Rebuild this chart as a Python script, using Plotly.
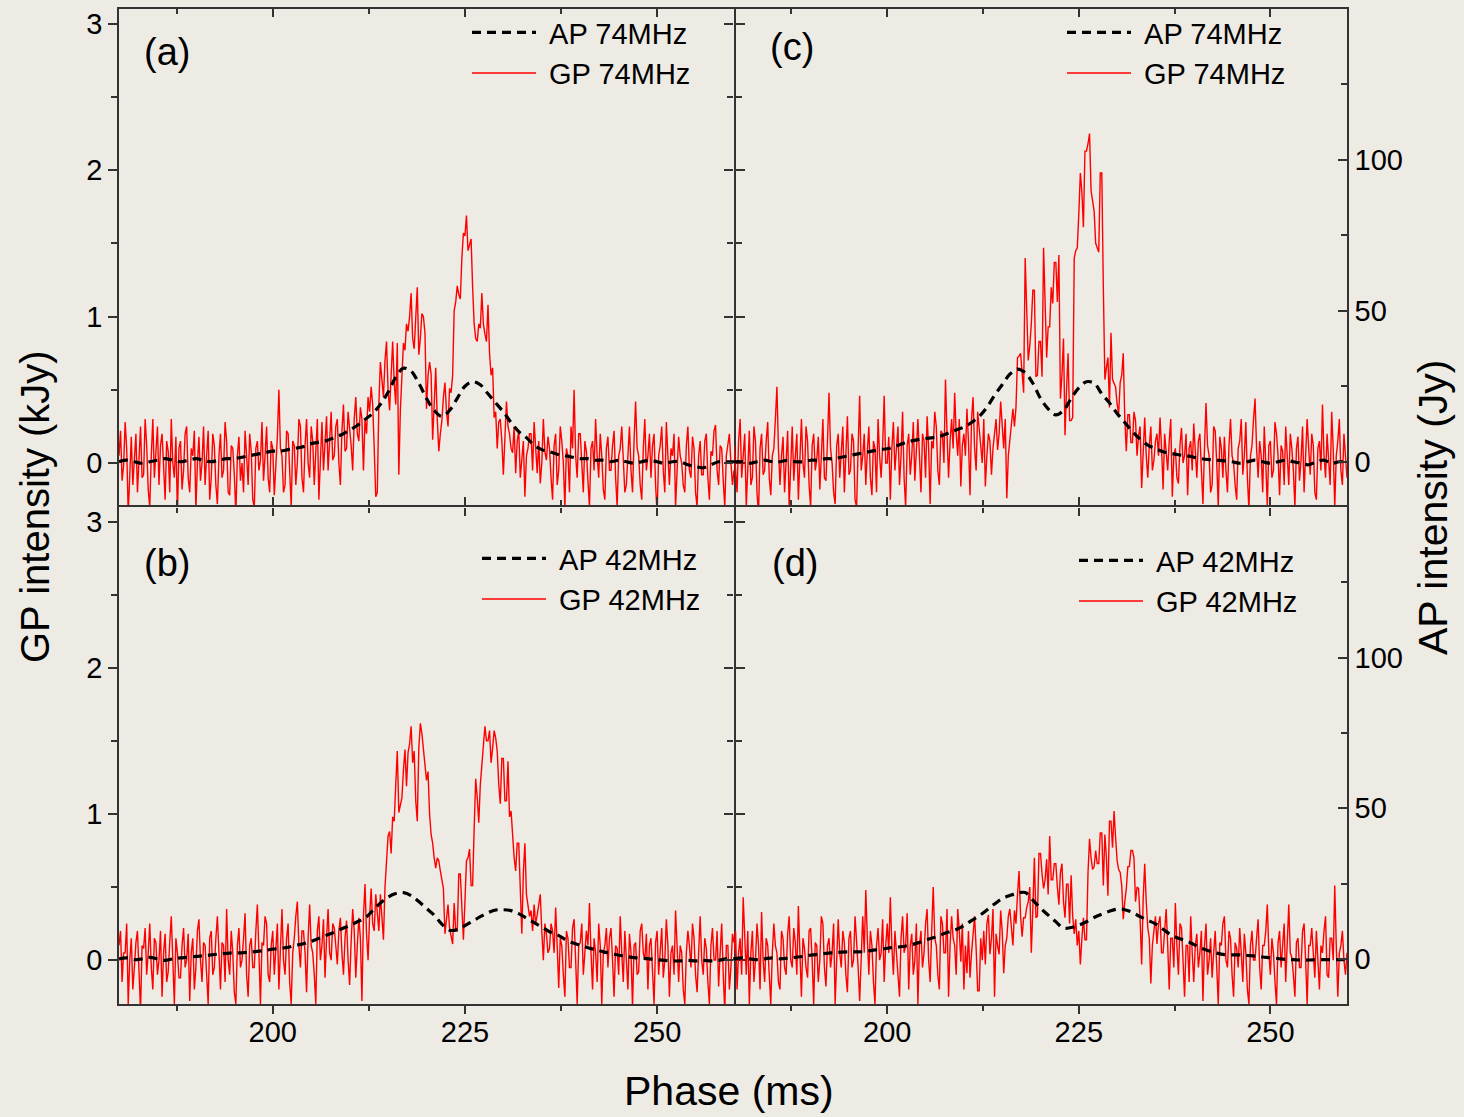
import plotly.graph_objects as go

# ---------------- data ----------------
# GP intensity (kJy), sampled every 0.2 ms from 180 ms to 260 ms
GP_A = [0.05, 0.22, -0.12, -0.02, 0.28, 0.1, -0.35, -0.05, 0.18, -0.15, 0.02, 0.2, -0.2, 0.08, 0.25, -0.1, -0.08, 0.3, 0.12, -0.18,
        -0.3, 0.05, 0.3, -0.1, 0.1, 0.25, -0.15, 0.12, 0.2, -0.05, -0.25, 0.15, 0.08, -0.2, 0.3, 0.0, -0.1, 0.18, -0.35, 0.1,
        0.15, -0.18, -0.05, 0.2, 0.25, -0.1, -0.2, 0.1, 0.05, 0.22, -0.32, 0.0, 0.18, -0.12, 0.0, 0.25, -0.15, 0.05, 0.22, -0.25,
        -0.1, 0.2, 0.12, -0.15, -0.28, 0.05, 0.2, -0.1, -0.05, 0.28, 0.15, -0.2, -0.22, 0.12, 0.1, -0.08, -0.35, 0.05, 0.18, -0.12,
        0.0, -0.2, 0.22, 0.05, -0.15, 0.2, 0.08, -0.25, -0.3, 0.1, 0.15, -0.05, 0.02, 0.28, -0.12, 0.05, 0.25, -0.1, -0.2, 0.15,
        0.1, -0.22, -0.05, 0.18, 0.5, 0.1, 0.05, -0.2, -0.15, 0.22, 0.2, -0.08, -0.3, 0.15, 0.12, -0.15, 0.0, 0.3, 0.25, -0.1,
        -0.2, 0.12, 0.3, 0.0, -0.1, 0.25, 0.15, -0.15, 0.05, 0.3, -0.25, 0.1, 0.28, -0.05, 0.1, 0.32, -0.05, 0.18, 0.35, 0.02,
        0.05, 0.25, 0.3, 0.0, -0.15, 0.22, 0.4, 0.08, 0.1, 0.35, 0.25, 0.12, -0.05, 0.3, 0.45, 0.2, 0.15, 0.38, 0.3, -0.05,
        0.3, 0.2, 0.45, 0.35, 0.52, 0.4, 0.1, -0.23, -0.2, 0.4, 0.69, 0.55, 0.45, 0.7, 0.83, 0.5, 0.36, 0.6, 0.83, 0.55,
        0.4, 0.82, -0.08, 0.36, 0.6, 0.82, 0.77, 0.95, 0.9, 1.0, 1.16, 0.85, 0.78, 0.95, 1.2, 0.74, 0.85, 1.02, 1.0, 0.89,
        0.37, 0.6, 0.69, 0.61, 0.16, 0.4, 0.65, 0.3, 0.08, 0.2, 0.29, 0.45, 0.55, 0.35, 0.25, 0.51, 0.48, 0.6, 1.04, 1.1,
        1.21, 1.15, 1.12, 1.4, 1.57, 1.55, 1.69, 1.45, 1.5, 1.53, 1.2, 0.95, 0.85, 0.83, 0.95, 0.92, 1.16, 0.95, 0.88, 0.83,
        1.08, 0.75, 0.6, 0.65, 0.31, 0.35, 0.1, 0.28, 0.3, 0.15, -0.08, 0.2, 0.42, 0.25, 0.2, 0.1, 0.07, 0.25, -0.07, 0.15,
        0.22, -0.1, 0.05, 0.15, -0.23, 0.05, 0.1, 0.2, 0.2, -0.05, 0.28, 0.1, -0.07, 0.15, -0.14, 0.0, 0.3, 0.08, 0.02, 0.18,
        0.1, -0.1, -0.25, 0.12, 0.2, -0.15, -0.05, 0.25, 0.15, 0.0, -0.3, 0.1, 0.05, -0.2, 0.25, 0.1, 0.5, 0.05, -0.1, 0.2,
        0.2, 0.0, -0.2, 0.15, 0.08, -0.12, -0.3, 0.1, 0.15, -0.05, 0.3, 0.05, -0.1, 0.2, 0.05, -0.18, -0.25, 0.1, 0.18, -0.05,
        -0.05, 0.12, 0.22, -0.1, -0.3, 0.05, 0.1, 0.25, 0.0, -0.2, -0.15, 0.1, 0.25, -0.05, -0.2, 0.15, 0.42, 0.1, 0.05, -0.15,
        -0.25, 0.1, 0.3, -0.05, 0.05, 0.2, -0.1, 0.12, 0.2, -0.15, -0.35, 0.05, 0.12, 0.25, -0.05, -0.2, 0.28, 0.05, -0.15, 0.1,
        0.05, 0.2, -0.3, -0.05, 0.18, 0.05, 0.0, -0.15, -0.2, 0.12, 0.25, -0.05, -0.1, 0.18, 0.1, -0.2, -0.3, 0.05, 0.15, -0.08,
        -0.08, 0.15, 0.2, -0.1, -0.25, 0.08, 0.05, 0.22, 0.26, -0.05, -0.15, 0.12, 0.1, -0.12, -0.3, 0.05, 0.12, 0.2, 0.0, -0.15,
        -0.05]

GP_C = [0.12, -0.05, -0.2, 0.15, 0.3, -0.1, 0.05, 0.2, -0.3, 0.0, 0.22, -0.15, -0.1, 0.25, 0.15, -0.2, -0.35, 0.1, 0.2, -0.08,
        -0.05, 0.15, 0.28, -0.1, -0.22, 0.05, 0.1, 0.3, 0.52, 0.1, -0.15, 0.05, 0.18, -0.2, 0.0, 0.22, -0.3, 0.05, 0.25, -0.12,
        0.05, 0.2, -0.25, 0.1, 0.3, 0.0, -0.1, 0.25, 0.15, -0.15, -0.3, 0.12, 0.2, -0.05, 0.02, 0.18, -0.18, 0.05, 0.3, -0.1,
        -0.12, 0.15, 0.48, 0.1, 0.0, -0.2, -0.28, 0.12, 0.2, -0.1, 0.08, 0.25, -0.2, 0.05, 0.32, -0.08, -0.05, 0.2, 0.15, -0.25,
        -0.3, 0.1, 0.46, -0.05, 0.05, 0.2, -0.15, 0.08, 0.25, -0.1, -0.22, 0.15, 0.1, -0.2, 0.3, 0.05, -0.1, 0.12, 0.46, 0.0,
        0.0, 0.18, -0.25, 0.1, 0.28, -0.05, 0.1, 0.25, -0.15, 0.05, 0.35, -0.1, -0.3, 0.12, 0.2, -0.08, 0.05, 0.28, -0.12, 0.15,
        0.3, 0.05, -0.2, 0.2, 0.15, -0.1, 0.32, 0.1, -0.28, 0.15, 0.1, 0.35, 0.25, -0.05, -0.15, 0.22, 0.2, 0.0, 0.57, 0.2,
        -0.1, 0.15, 0.3, 0.1, 0.48, 0.2, 0.05, 0.3, -0.16, 0.12, 0.2, 0.05, 0.37, 0.15, -0.22, 0.3, 0.45, 0.1, -0.05, 0.35,
        0.24, 0.1, 0.0, 0.3, -0.16, 0.05, 0.2, 0.15, -0.08, 0.1, 0.21, 0.3, 0.09, 0.2, 0.42, 0.25, 0.1, 0.3, -0.24, 0.05,
        0.16, 0.3, 0.37, 0.25, 0.38, 0.72, 0.73, 0.75, 0.6, 0.48, 1.4, 1.0, 0.7, 0.8, 0.95, 1.18, 1.18, 0.59, 0.6, 0.83,
        0.83, 0.59, 1.47, 1.1, 0.72, 0.93, 0.93, 1.2, 1.09, 1.37, 1.37, 1.1, 1.42, 0.44, 0.6, 0.85, 0.19, 0.5, 0.75, 0.29,
        0.29, 0.31, 1.4, 1.45, 1.47, 1.7, 1.98, 1.85, 1.61, 2.13, 2.13, 2.18, 2.25, 1.86, 1.8, 1.72, 1.5, 1.47, 1.44, 1.98,
        1.98, 1.2, 0.57, 0.65, 0.72, 0.38, 0.89, 0.57, 0.55, 0.52, 0.4, 0.34, 0.55, 0.6, 0.75, 0.3, 0.08, 0.33, 0.33, 0.14,
        0.14, 0.35, 0.29, 0.05, 0.19, 0.25, -0.17, 0.1, 0.31, 0.05, -0.1, 0.12, 0.25, -0.05, 0.02, 0.15, 0.2, 0.05, 0.31, 0.1,
        -0.18, 0.2, 0.07, -0.05, 0.15, 0.3, -0.23, 0.05, 0.1, -0.1, -0.14, 0.12, 0.24, 0.0, 0.05, 0.2, -0.22, 0.1, 0.15, -0.05,
        0.27, 0.05, -0.1, 0.15, 0.2, -0.05, -0.28, 0.1, 0.41, 0.12, 0.05, -0.2, -0.15, 0.25, 0.22, 0.0, -0.3, 0.18, 0.1, -0.1,
        0.18, -0.05, -0.2, 0.12, 0.3, 0.05, 0.0, -0.15, -0.25, 0.1, 0.15, 0.3, -0.08, 0.05, 0.28, -0.1, -0.32, 0.05, 0.12, 0.3,
        0.44, 0.1, -0.1, 0.15, 0.05, -0.2, 0.25, 0.0, -0.3, 0.12, 0.15, -0.1, -0.05, 0.28, 0.2, 0.05, -0.22, 0.12, 0.08, -0.15,
        0.25, 0.05, -0.15, 0.2, 0.1, -0.05, -0.3, 0.1, 0.18, -0.12, 0.02, 0.25, -0.2, 0.05, 0.3, 0.1, -0.08, 0.2, 0.12, -0.2,
        -0.25, 0.1, 0.15, -0.05, 0.4, 0.05, -0.1, 0.2, 0.05, -0.15, 0.35, 0.1, -0.3, 0.05, 0.15, 0.3, -0.05, -0.15, 0.2, 0.05,
        -0.1]

GP_B = [0.1, 0.2, -0.15, 0.05, 0.05, 0.25, -0.3, 0.0, 0.15, -0.2, -0.05, 0.12, 0.2, -0.1, -0.35, 0.1, 0.08, 0.22, -0.1, 0.05,
        0.25, -0.05, -0.2, 0.15, 0.12, -0.1, 0.0, 0.2, -0.25, 0.05, 0.18, -0.15, -0.08, 0.12, 0.3, 0.0, -0.3, 0.15, 0.05, -0.12,
        -0.12, 0.1, 0.22, -0.05, 0.0, 0.18, -0.28, 0.05, 0.15, -0.2, -0.05, 0.2, 0.28, 0.0, -0.15, 0.12, 0.1, -0.1, -0.3, 0.15,
        0.2, -0.1, -0.05, 0.15, 0.3, 0.05, -0.2, 0.12, 0.1, -0.15, 0.35, 0.0, -0.1, 0.2, 0.05, -0.22, -0.3, 0.1, 0.22, -0.05,
        0.0, 0.15, 0.32, -0.1, -0.25, 0.1, 0.15, -0.05, -0.05, 0.2, 0.38, 0.05, -0.3, 0.12, 0.1, 0.3, 0.25, -0.1, -0.15, 0.1,
        0.2, -0.1, 0.05, 0.25, -0.2, 0.1, 0.35, 0.0, -0.1, 0.15, 0.25, -0.15, -0.3, 0.05, 0.15, 0.3, 0.4, 0.1, -0.05, 0.2,
        0.2, 0.05, -0.22, 0.15, 0.38, 0.1, 0.05, -0.1, -0.3, 0.2, 0.3, 0.0, 0.1, 0.28, -0.12, 0.15, 0.35, 0.05, 0.0, 0.25,
        0.22, 0.1, -0.03, 0.2, 0.29, 0.05, -0.1, 0.15, 0.27, 0.0, -0.17, 0.13, 0.35, 0.2, -0.12, 0.1, 0.29, 0.15, -0.28, 0.3,
        0.52, 0.18, 0.0, 0.3, 0.49, 0.25, 0.2, 0.45, 0.34, 0.2, 0.45, 0.3, 0.14, 0.5, 0.7, 0.85, 0.88, 0.73, 0.98, 0.95,
        1.2, 1.43, 1.01, 1.05, 1.11, 1.3, 1.44, 1.19, 1.42, 1.48, 1.6, 1.35, 1.43, 1.09, 0.95, 1.45, 1.62, 1.55, 1.45, 1.34,
        1.23, 1.29, 1.0, 0.86, 0.8, 0.7, 0.63, 0.7, 0.68, 0.61, 0.55, 0.49, 0.18, 0.3, 0.38, 0.22, 0.15, 0.11, 0.39, 0.2,
        0.2, 0.59, 0.59, 0.4, 0.14, 0.4, 0.68, 0.7, 0.76, 0.51, 0.51, 0.9, 1.24, 1.11, 0.94, 1.2, 1.35, 1.45, 1.6, 1.5,
        1.5, 1.57, 1.35, 1.45, 1.57, 1.52, 1.43, 1.2, 1.07, 1.38, 1.38, 1.09, 1.09, 1.36, 0.98, 1.02, 0.84, 0.7, 0.61, 0.8,
        0.8, 0.5, 0.18, 0.6, 0.8, 0.45, 0.37, 0.3, 0.34, 0.2, 0.38, 0.25, 0.31, 0.4, 0.45, 0.2, 0.0, 0.25, 0.18, 0.05,
        0.08, 0.25, 0.2, 0.05, 0.36, 0.1, -0.19, 0.15, 0.1, -0.1, -0.25, 0.2, 0.15, -0.05, -0.05, 0.22, 0.28, 0.0, -0.3, 0.1,
        0.12, 0.25, -0.1, 0.05, 0.2, 0.1, 0.39, 0.05, -0.2, 0.15, 0.05, -0.15, 0.25, 0.1, -0.3, 0.05, 0.1, 0.22, -0.05, 0.15,
        0.22, 0.0, -0.25, 0.1, 0.08, -0.1, 0.3, 0.05, -0.15, 0.2, 0.0, -0.2, 0.18, 0.05, -0.32, 0.1, 0.12, -0.1, -0.08, 0.2,
        0.25, 0.05, 0.0, 0.18, -0.2, 0.1, 0.15, -0.05, -0.3, 0.12, 0.2, -0.1, 0.05, 0.22, -0.12, 0.0, 0.28, 0.1, -0.25, 0.05,
        0.1, -0.1, 0.34, 0.12, -0.15, 0.1, 0.05, -0.2, -0.3, 0.05, 0.2, 0.1, -0.05, 0.25, 0.15, -0.1, -0.22, 0.05, 0.3, 0.0,
        -0.1, 0.15, 0.08, -0.15, -0.3, 0.1, 0.22, 0.0, 0.0, 0.2, -0.18, 0.05, 0.25, -0.1, -0.35, 0.1, 0.1, -0.2, -0.05, 0.18,
        0.12]

GP_D = [0.05, 0.2, -0.2, 0.05, 0.15, -0.1, 0.43, 0.1, -0.1, 0.2, -0.3, 0.05, 0.2, -0.15, 0.0, 0.25, 0.1, -0.2, 0.33, 0.0,
        -0.15, 0.15, 0.1, -0.1, -0.3, 0.05, 0.25, 0.1, 0.05, -0.15, -0.2, 0.2, 0.15, -0.05, -0.1, 0.18, 0.3, 0.0, -0.05, 0.22,
        0.12, -0.1, 0.37, 0.05, -0.25, 0.15, 0.08, -0.05, -0.12, 0.2, 0.22, 0.0, -0.3, 0.12, 0.1, -0.15, 0.0, 0.3, 0.25, -0.05,
        -0.18, 0.1, 0.15, -0.05, 0.05, 0.25, -0.3, 0.0, 0.28, 0.05, -0.05, 0.2, 0.12, -0.1, -0.22, 0.15, 0.2, -0.05, 0.0, 0.3,
        0.15, -0.05, -0.28, 0.1, 0.3, 0.05, 0.48, 0.15, -0.1, 0.2, 0.1, -0.15, -0.3, 0.1, 0.22, 0.0, 0.05, 0.28, -0.15, 0.1,
        0.25, 0.05, 0.43, 0.1, -0.1, 0.2, 0.05, -0.15, -0.25, 0.15, 0.3, 0.05, 0.1, 0.32, -0.2, 0.1, 0.18, -0.1, 0.0, 0.25,
        -0.3, 0.1, 0.2, -0.05, 0.05, 0.25, 0.35, 0.0, -0.15, 0.2, 0.5, 0.15, 0.1, -0.1, -0.2, 0.3, 0.25, 0.05, 0.05, 0.35,
        -0.25, 0.1, 0.3, 0.15, 0.1, -0.1, 0.35, 0.2, -0.01, 0.25, -0.2, 0.1, -0.09, 0.2, -0.12, 0.05, 0.18, 0.3, 0.08, -0.21,
        -0.21, 0.15, 0.0, 0.2, -0.03, 0.25, 0.31, 0.04, 0.15, 0.35, -0.25, 0.18, 0.1, 0.04, 0.34, 0.2, -0.09, 0.1, 0.15, 0.3,
        0.35, 0.2, 0.1, 0.34, 0.25, 0.45, 0.61, 0.3, 0.16, 0.29, 0.29, 0.36, 0.4, 0.5, 0.05, 0.35, 0.7, 0.29, 0.3, 0.73,
        0.73, 0.59, 0.49, 0.55, 0.69, 0.45, 0.85, 0.55, 0.55, 0.66, 0.66, 0.5, 0.38, 0.6, 0.66, 0.4, 0.29, 0.52, 0.52, 0.25,
        0.58, 0.3, 0.18, 0.28, 0.1, 0.2, -0.03, 0.15, 0.29, 0.14, 0.14, 0.6, 0.83, 0.7, 0.62, 0.64, 0.75, 0.66, 0.66, 0.87,
        0.87, 0.51, 0.86, 0.7, 0.44, 0.95, 0.95, 0.77, 1.02, 0.84, 0.68, 0.62, 0.6, 0.51, 0.28, 0.4, 0.49, 0.64, 0.64, 0.75,
        0.75, 0.7, 0.4, 0.5, 0.49, 0.28, -0.03, 0.42, 0.66, 0.4, 0.22, 0.15, -0.16, 0.1, 0.2, 0.3, 0.11, 0.25, 0.3, 0.05,
        0.05, 0.2, 0.35, 0.1, -0.2, 0.15, 0.15, -0.05, 0.39, 0.1, -0.1, 0.25, 0.22, 0.0, -0.25, 0.1, 0.1, -0.15, 0.3, 0.05,
        -0.15, 0.1, 0.18, -0.05, 0.05, 0.2, -0.28, 0.1, 0.25, -0.1, 0.0, 0.15, -0.12, 0.05, 0.2, -0.05, -0.3, 0.12, 0.1, 0.25,
        0.3, 0.0, -0.05, 0.2, 0.15, -0.1, -0.25, 0.12, 0.08, -0.05, 0.22, 0.05, -0.15, 0.18, 0.05, -0.2, -0.3, 0.1, 0.2, 0.0,
        0.0, 0.15, 0.28, -0.05, -0.2, 0.1, 0.1, 0.2, 0.38, 0.05, -0.1, 0.15, 0.05, -0.15, -0.3, 0.12, 0.2, -0.05, 0.08, 0.25,
        -0.15, 0.1, 0.38, 0.05, 0.02, -0.1, -0.25, 0.12, 0.15, -0.05, -0.05, 0.2, 0.25, 0.0, -0.3, 0.1, 0.1, 0.22, 0.0, -0.12,
        0.2, -0.05, -0.2, 0.1, 0.05, 0.2, 0.3, -0.1, -0.12, 0.15, 0.15, 0.0, 0.51, 0.1, -0.25, 0.05, 0.1, 0.2, 0.0, -0.1,
        0.05]

# AP intensity (Jy), sampled every 1 ms from 180 ms to 260 ms
PHASE_AP = list(range(180, 261))
AP_A = [0, 0.5, 0, -0.5, 0, 0.5, 1, 0.5, 0, 0.5,
        1, 0.5, 0, 0.5, 1, 1, 1.5, 2, 2.5, 3,
        3.5, 3.5, 4, 4.5, 5, 6, 6.5, 7, 8, 9,
        10.5, 12, 14, 16, 19, 23, 28, 31, 30, 26,
        21, 17, 15, 17, 21, 25, 26.5, 25.5, 22.5, 19.5,
        16.5, 13, 10, 8, 5.5, 4, 3.3, 2.5, 2, 1.5,
        1, 1, 0.5, 0.5, 0, 0.5, 0, -0.5, 0, 0.5,
        0, -0.5, 0, 0, -1, -1.5, -2, -1, 0, 0,
        0]
AP_C = [0, 0, -0.5, 0, 0.5, 0, 0, 0.5, 0, 0,
        0.5, 0.5, 1, 1, 1.5, 2, 2.5, 3, 3.5, 4,
        4.3, 5, 6, 6.8, 7.3, 7.7, 8, 8.5, 9.5, 10.5,
        11.5, 13, 15, 18, 22, 25.5, 29, 30.7, 29.5, 26,
        21, 17.5, 15.5, 17, 21, 24.5, 26.5, 26, 22.5, 19.5,
        16, 13, 10, 7.5, 5.5, 4.3, 3.3, 2.8, 2.3, 2,
        1.5, 1, 0.7, 0.5, 0.3, 0, -0.5, 0, 0.5, 0,
        -0.5, 0, 0.5, 0, -0.5, -1, 0, 0.5, -0.5, 0,
        0]
AP_B = [0, 0.3, -0.3, 0, 0.5, 0, -0.5, 0, 0.3, 0.5,
        0.8, 1, 1.3, 1.6, 1.8, 2, 2, 2.2, 2.5, 2.8,
        3.2, 3.5, 3.8, 4.5, 5, 5.8, 6.8, 7.8, 8.8, 10,
        11, 12.3, 13.5, 16, 18.5, 20.5, 21.7, 22, 21, 19,
        16.7, 14.5, 11.5, 9.5, 9.7, 11, 12.5, 14, 15.3, 16.2,
        16.3, 16, 15, 13.5, 12, 10.5, 9, 8, 6.5, 5.3,
        4.5, 3.7, 3, 2.3, 1.8, 1.2, 0.8, 0.4, 0.2, 0,
        -0.3, -0.5, -0.7, -0.7, -0.5, -0.7, -0.5, -0.7, -0.5, 0,
        0]
AP_D = [0, 0.3, 0, -0.3, 0, 0.3, 0, 0.2, 0.5, 0.8,
        1.2, 1.5, 1.8, 2, 2.2, 2.3, 2.3, 2.4, 2.8, 3.1,
        3.5, 3.8, 4.1, 4.6, 5.3, 6.2, 7, 8, 8.9, 9.7,
        11, 12.7, 14.3, 16.2, 18.2, 20, 21, 21.8, 22, 19.5,
        16.8, 14.5, 12.3, 10.2, 10.4, 11.2, 12.3, 13.7, 14.8, 15.8,
        16.5, 16.3, 15.4, 14, 12.8, 11.6, 9.8, 8, 6.8, 6,
        4.8, 3.5, 2.6, 1.9, 1.4, 1.3, 1.3, 1.1, 0.9, 0.6,
        0.4, 0.1, -0.2, -0.3, -0.4, -0.4, -0.3, -0.3, -0.3, -0.3,
        -0.3]

PANEL_LABELS = ["(a)", "(c)", "(b)", "(d)"]
FREQS = ["74MHz", "74MHz", "42MHz", "42MHz"]
X_TICKS = [200, 225, 250]
GP_TICKS = [0, 1, 2, 3]
AP_TICKS = [0, 50, 100]

# ---------------- figure ----------------
W, H = 1464, 1117
FONT = "Liberation Sans, Arial, sans-serif"
AXC = "#333333"
BG = "#eeebe5"
NB = "\u00a0"

def px(xp):
    return xp / W

def py(yp):
    return 1 - yp / H

XL = [px(119), px(734)]
XR = [px(734), px(1347)]
YT = [py(507), py(9)]
YB = [py(1004), py(507)]

fig = go.Figure()

panel_axes = [
    ("x", "y", "x5", "y5", "legend"),
    ("x2", "y2", "x6", "y6", "legend2"),
    ("x3", "y3", "x3", "y7", "legend3"),
    ("x4", "y4", "x4", "y8", "legend4"),
]
GP_ALL = [GP_A, GP_C, GP_B, GP_D]
AP_ALL = [AP_A, AP_C, AP_B, AP_D]

for (gx, gy, ax, ay, lg), gp, ap, fq in zip(panel_axes, GP_ALL, AP_ALL, FREQS):
    phase_gp = [round(180 + 0.2 * i, 1) for i in range(len(gp))]
    fig.add_trace(go.Scatter(x=phase_gp, y=gp, xaxis=gx, yaxis=gy, mode="lines",
                             name=NB + "GP " + fq, legend=lg,
                             line=dict(color="#ff0000", width=1.4)))
    fig.add_trace(go.Scatter(x=PHASE_AP, y=ap, xaxis=ax, yaxis=ay, mode="lines",
                             name=NB + "AP " + fq, legend=lg,
                             line=dict(color="#000000", width=3.2, dash="9px,6px", shape="spline")))

tickfont = dict(family=FONT, size=29, color="#000000")

def xaxis(domain, anchor, labels, mirror=False, line=True):
    return dict(domain=domain, anchor=anchor, range=[180, 260], tickmode="array",
                tickvals=X_TICKS, ticktext=[str(v) for v in X_TICKS],
                ticks="outside", ticklen=8, tickwidth=1.5, tickcolor=AXC,
                minor=dict(tickmode="array", tickvals=[187.5, 212.5, 237.5],
                           ticks="outside", ticklen=5, tickwidth=1.5, tickcolor=AXC),
                showticklabels=labels, tickfont=tickfont, ticklabelstandoff=-7,
                showline=line, linecolor=AXC, linewidth=1.5, mirror=mirror,
                showgrid=False, zeroline=False)

def xtop(over, anchor):
    return dict(overlaying=over, anchor=anchor, side="top", range=[180, 260],
                tickmode="array", tickvals=X_TICKS, ticks="inside", ticklen=8,
                tickwidth=1.5, tickcolor=AXC,
                minor=dict(tickmode="array", tickvals=[187.5, 212.5, 237.5],
                           ticks="inside", ticklen=5, tickwidth=1.5, tickcolor=AXC),
                showticklabels=False, showline=True, linecolor=AXC, linewidth=1.5,
                showgrid=False, zeroline=False)

def ygp(domain, anchor, labels, mirror, line=True):
    return dict(domain=domain, anchor=anchor, range=[-0.3, 3.1], tickmode="array",
                tickvals=GP_TICKS, ticktext=[str(v) for v in GP_TICKS],
                ticks="outside", ticklen=9, tickwidth=1.5, tickcolor=AXC,
                minor=dict(tickmode="array", tickvals=[0.5, 1.5, 2.5],
                           ticks="outside", ticklen=6, tickwidth=1.5, tickcolor=AXC),
                showticklabels=labels, tickfont=tickfont,
                showline=line, linecolor=AXC, linewidth=1.5, mirror=mirror,
                showgrid=False, zeroline=False)

def yap(over, anchor, visible):
    return dict(overlaying=over, anchor=anchor, side="right", range=[-15, 150],
                visible=visible, tickmode="array", tickvals=AP_TICKS,
                ticktext=[str(v) for v in AP_TICKS],
                ticks="inside", ticklen=9, tickwidth=1.5, tickcolor=AXC,
                minor=dict(tickmode="array", tickvals=[25, 75, 125],
                           ticks="inside", ticklen=6, tickwidth=1.5, tickcolor=AXC),
                showticklabels=True, tickfont=tickfont,
                showline=True, linecolor=AXC, linewidth=1.5,
                showgrid=False, zeroline=False)

def legend(xp, yp):
    return dict(x=px(xp), y=py(yp), xanchor="left", yanchor="top",
                bgcolor="rgba(0,0,0,0)", borderwidth=0, traceorder="reversed",
                font=dict(family=FONT, size=29, color="#000000"),
                itemwidth=64, tracegroupgap=0)

fig.update_layout(
    width=W, height=H, margin=dict(l=0, r=0, t=0, b=0),
    paper_bgcolor=BG, plot_bgcolor="rgba(0,0,0,0)",
    font=dict(family=FONT, color="#000000"),
    showlegend=True,
    xaxis=xaxis(XL, "y", False, line=False),
    xaxis2=xaxis(XR, "y2", False, line=False),
    xaxis3=xaxis(XL, "y3", True, mirror="ticks"),
    xaxis4=xaxis(XR, "y4", True, mirror="ticks"),
    xaxis5=xtop("x", "y"),
    xaxis6=xtop("x2", "y2"),
    yaxis=ygp(YT, "x", True, "ticks"),
    yaxis2=ygp(YT, "x2", False, False, line=False),
    yaxis3=ygp(YB, "x3", True, "ticks"),
    yaxis4=ygp(YB, "x4", False, False, line=False),
    yaxis5=yap("y", "x", False),
    yaxis6=yap("y2", "x2", True),
    yaxis7=yap("y3", "x3", False),
    yaxis8=yap("y4", "x4", True),
    legend=legend(467, 7),
    legend2=legend(1062, 7),
    legend3=legend(477, 533),
    legend4=legend(1074, 535),
)

ann = []
for lab, xp_, yp_ in zip(PANEL_LABELS, [142, 768, 142, 770], [52, 47, 563, 563]):
    ann.append(dict(text=lab, x=px(xp_), y=py(yp_), xref="paper", yref="paper",
                    xanchor="left", yanchor="middle", showarrow=False,
                    font=dict(family=FONT, size=38, color="#000000")))
ann.append(dict(text="GP intensity (kJy)", x=px(35), y=py(507), xref="paper", yref="paper",
                textangle=-90, xanchor="center", yanchor="middle", showarrow=False,
                font=dict(family=FONT, size=40, color="#000000")))
ann.append(dict(text="AP intensity (Jy)", x=px(1433), y=py(508), xref="paper", yref="paper",
                textangle=-90, xanchor="center", yanchor="middle", showarrow=False,
                font=dict(family=FONT, size=41, color="#000000")))
ann.append(dict(text="Phase (ms)", x=px(729), y=py(1091), xref="paper", yref="paper",
                xanchor="center", yanchor="middle", showarrow=False,
                font=dict(family=FONT, size=41, color="#000000")))
fig.update_layout(annotations=ann)

fig.write_html("out.html")
